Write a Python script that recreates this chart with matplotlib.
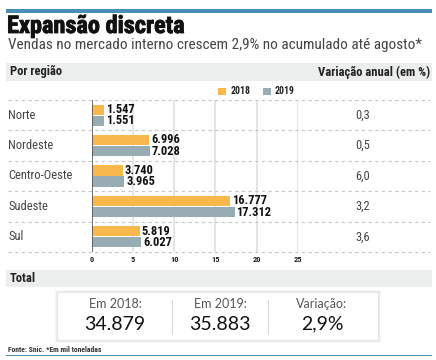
import matplotlib
matplotlib.use('Agg')
import matplotlib.pyplot as plt
import matplotlib.transforms as mtransforms
import matplotlib.patheffects as pe
from matplotlib.patches import Rectangle

## data (mil toneladas, shown in millions on the axis)
regioes = ['Norte', 'Nordeste', 'Centro-Oeste', 'Sudeste', 'Sul']
v2018 = [1.547, 6.996, 3.740, 16.777, 5.819]
v2019 = [1.551, 7.028, 3.965, 17.312, 6.027]
variacao = ['0,3', '0,5', '6,0', '3,2', '3,6']
xticks = [0, 5, 10, 15, 20, 25]
totais_lbl = ['Em 2018:', 'Em 2019:', 'Variação:']
totais_val = ['34.879', '35.883', '2,9%']

c18 = '#f9b84b'
c19 = '#97adb3'
blue = '#4a8cb3'
narrow = ['Roboto Condensed', 'Roboto', 'DejaVu Sans']
lato = ['Lato', 'DejaVu Sans']

W, H = 436, 360
fig = plt.figure(figsize=(W/100, H/100), dpi=100)

def fx(px):
    return px / W

def fy(py):
    return 1 - py / H

def band(y0, y1, color, x0=6, x1=432):
    fig.patches.append(Rectangle((fx(x0), fy(y1)), fx(x1) - fx(x0), fy(y0) - fy(y1),
                                 transform=fig.transFigure, facecolor=color,
                                 edgecolor='none', zorder=0))

## top bar + titles
band(9, 13, blue)
fig.text(fx(7), fy(33), 'Expansão discreta', family=narrow, weight='bold',
         fontsize=17.5, color='#111111', va='baseline',
         path_effects=[pe.withStroke(linewidth=0.6, foreground='#111111')])
fig.text(fx(8), fy(45), 'Vendas no mercado interno crescem 2,9% no acumulado até agosto*',
         family=narrow, fontsize=11, color='#444444', va='center')

band(63, 81, '#eceeed')
fig.text(fx(10), fy(72), 'Por região', family=narrow, weight='bold', fontsize=9,
         color='#222222', va='center')
fig.text(fx(430), fy(72), 'Variação anual (em %)', family=narrow, weight='bold',
         fontsize=9, color='#222222', va='center', ha='right')

## legend
fig.patches.append(Rectangle((fx(218), fy(95)), fx(8), 7/H, transform=fig.transFigure,
                             facecolor=c18, edgecolor='none'))
fig.text(fx(231), fy(91.5), '2018', family=narrow, weight='bold', fontsize=7,
         color='#222222', va='center')
fig.patches.append(Rectangle((fx(263), fy(95)), fx(8), 7/H, transform=fig.transFigure,
                             facecolor=c19, edgecolor='none'))
fig.text(fx(275), fy(91.5), '2019', family=narrow, weight='bold', fontsize=7,
         color='#222222', va='center')

## bar chart
x0px, x25px = 91.7, 298
ytop, ybot = 100, 252
ax = fig.add_axes([fx(x0px), fy(ybot), fx(x25px) - fx(x0px), (ybot - ytop)/H])
n = len(regioes)
pos = list(range(n))
h = 0.34
ax.barh([p - 0.18 for p in pos], v2018, height=h, color=c18, zorder=3)
ax.barh([p + 0.18 for p in pos], v2019, height=h, color=c19, zorder=3)
ax.set_xlim(0, 25)
ax.set_ylim(n - 0.5, -0.5)
for s in ax.spines.values():
    s.set_visible(False)
ax.set_yticks([])
ax.set_xticks(xticks)
ax.tick_params(axis='x', length=0, pad=3, labelsize=6, labelcolor='#222222')
for lab in ax.get_xticklabels():
    lab.set_fontweight('bold')
    lab.set_family(narrow)
for t in xticks[1:]:
    ax.axvline(t, color='#dcdcdc', linewidth=1.1, zorder=1)
ax.axvline(0, color='#555555', linewidth=1.2, zorder=4)

for p, a, b in zip(pos, v2018, v2019):
    ax.text(a + 0.2, p - 0.19, f'{a:.3f}', family=narrow, weight='bold', fontsize=9,
            color='#111111', va='center')
    ax.text(b + 0.2, p + 0.19, f'{b:.3f}', family=narrow, weight='bold', fontsize=9,
            color='#111111', va='center')

tr = mtransforms.blended_transform_factory(fig.transFigure, ax.transData)
for p, r, v in zip(pos, regioes, variacao):
    ax.text(fx(8), p, r, transform=tr, family=narrow, fontsize=9, color='#444444',
            va='center')
    ax.text(fx(363), p, v, transform=tr, family=narrow, fontsize=9, color='#444444',
            va='center', ha='center')
for k in range(n + 1):
    ax.plot([fx(8), fx(430)], [k - 0.5, k - 0.5], transform=tr, clip_on=False,
            color='#c6c6c6', linewidth=0.8, linestyle=(0, (3, 3)), zorder=2)

## totals
band(270, 287, '#eceeed')
fig.text(fx(10), fy(278.5), 'Total', family=narrow, weight='bold', fontsize=9,
         color='#222222', va='center')

for d in [3, 2, 1]:
    fig.patches.append(Rectangle((fx(58 - d), fy(340 + d)), fx(320 + 2*d), (47 + 2*d)/H,
                                 transform=fig.transFigure, facecolor='#000000',
                                 alpha=0.035, edgecolor='none'))
fig.patches.append(Rectangle((fx(58), fy(340)), fx(320), 47/H, transform=fig.transFigure,
                             facecolor='white', edgecolor='none'))
for xd in [172, 268]:
    fig.lines.append(plt.Line2D([fx(xd), fx(xd)], [fy(300), fy(334)],
                                transform=fig.transFigure, color='#d8d8d8', linewidth=0.8))
for cx, lbl, val in zip([115, 220, 322], totais_lbl, totais_val):
    fig.text(fx(cx), fy(304), lbl, family=lato, fontsize=9, color='#555555',
             ha='center', va='center')
    fig.text(fx(cx), fy(324), val, family=lato, fontsize=14, color='#111111',
             ha='center', va='center')

fig.text(fx(8), fy(349), 'Fonte: Snic. *Em mil toneladas', family=narrow, weight='bold',
         fontsize=5.5, color='#333333', va='center')
band(354.5, 356, blue)

plt.savefig('out.png', dpi=100)
